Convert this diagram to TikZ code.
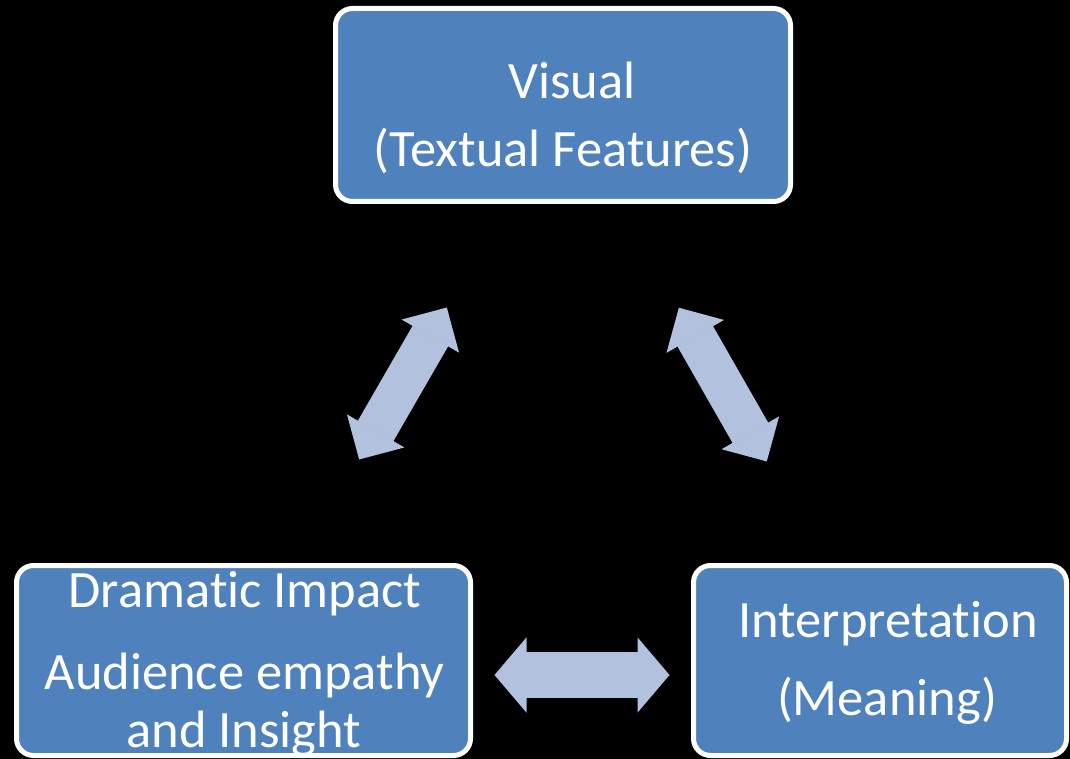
\documentclass[tikz,border=0pt]{standalone}
\usepackage{fontspec}
\setmainfont{Carlito}[Ligatures=NoCommon]
\usetikzlibrary{arrows.meta}

\definecolor{boxblue}{RGB}{79,129,189}
\definecolor{linkblue}{RGB}{178,193,222}

\begin{document}
\begin{tikzpicture}[x=1pt, y=-1pt,
    box/.style={draw=white, line width=5pt, fill=boxblue, rounded corners=17pt, inner sep=0pt},
    txt/.style={text=white, anchor=base, inner sep=0pt, font=\fontsize{52.5}{60}\selectfont},
    link/.style={draw=linkblue, line width=41pt,
        {Triangle[width=66pt, length=33pt, line width=1.5pt]}-{Triangle[width=66pt, length=33pt, line width=1.5pt]}}]

    % Background
    \fill[black] (0,0) rectangle (1070,759);
    \useasboundingbox (0,0) rectangle (1070,759);

    % Draw Boxes
    \node[box, minimum width=455pt, minimum height=193pt] (vis) at (563,105) {};
    \node[box, minimum width=454pt, minimum height=190pt] (dram) at (243.5,660.5) {};
    \node[box, minimum width=373pt, minimum height=190pt] (interp) at (880,660.5) {};

    % Box Labels
    % -- top
    \node[txt] (vis1) at (572,99) {Visual};
    \node[txt] (vis2) at (563,167) {(Textual Features)};

    % -- bottom left
    \node[txt] (dram1) at (245,607) {Dramatic Impact};
    \node[txt] (dram2) at (244.5,689) {Audience empathy};
    \node[txt] (dram3) at (244,747) {and Insight};

    % -- bottom right
    \node[txt] (interp1) at (888,637) {Interpretation};
    \node[txt] (interp2) at (887,715) {(Meaning)};

    % Double Arrows
    \draw[link, shorten <=119.5pt, shorten >=119.5pt] (dram) -- (vis);
    \draw[link, shorten <=119.5pt, shorten >=117pt] (vis) -- (interp);
    \draw[link, line width=46pt,
        {Triangle[width=75pt, length=32pt, line width=1.5pt]}-{Triangle[width=75pt, length=32pt, line width=1.5pt]},
        shorten <=21.5pt, shorten >=21.5pt]
        ([yshift=-14.5pt]dram.east) -- ([yshift=-14.5pt]interp.west);
\end{tikzpicture}
\end{document}
